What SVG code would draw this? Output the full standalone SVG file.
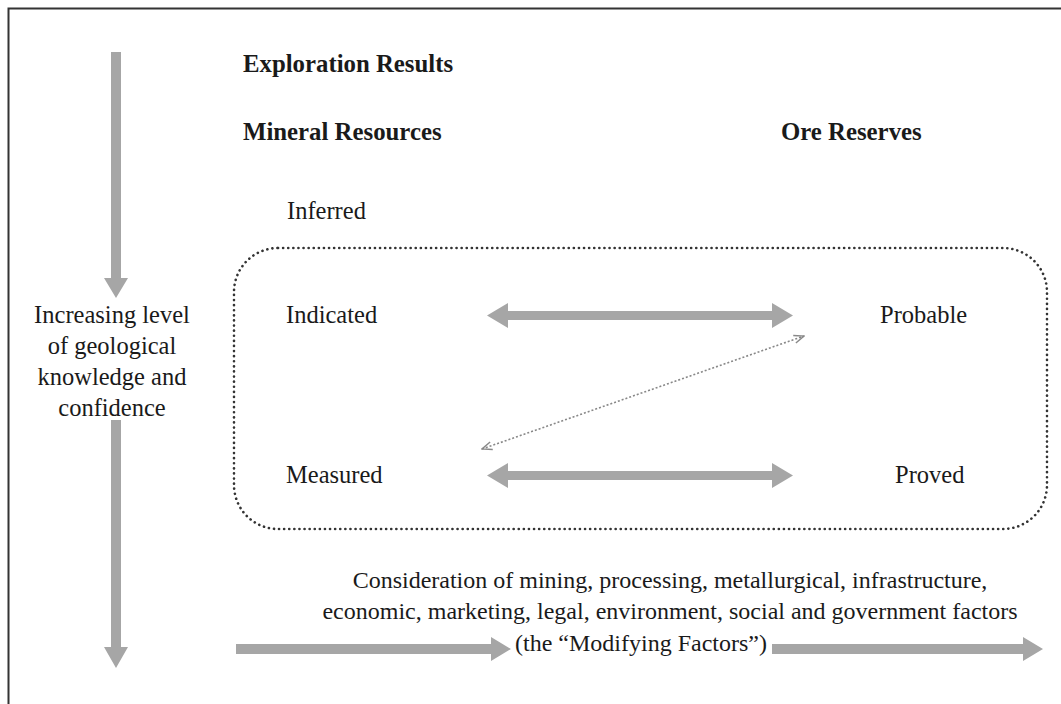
<svg xmlns="http://www.w3.org/2000/svg" width="1061" height="704" viewBox="0 0 1061 704">
<defs>
<style>
text{font-family:"Liberation Serif","Times New Roman",serif;font-size:24.5px;fill:#1a1a1a}
.b{font-weight:bold;font-size:24.8px}
.c{text-anchor:middle}
.s{font-size:24px}
.arr{fill:#a6a6a6}
</style>
<marker id="open" viewBox="0 0 12 10" refX="11" refY="5" markerWidth="12" markerHeight="10" markerUnits="userSpaceOnUse" orient="auto-start-reverse">
<path d="M1,1 L11,5 L1,9" fill="none" stroke="#888" stroke-width="1.4"/>
</marker>
</defs>
<rect width="1061" height="704" fill="#fff"/>
<path d="M8.5,704 V8.5 H1061" fill="none" stroke="#333" stroke-width="2"/>
<g id="labels">
<text class="b" x="243" y="72">Exploration Results</text>
<text class="b" x="243" y="140">Mineral Resources</text>
<text class="b" x="781" y="140">Ore Reserves</text>
<text x="287" y="219">Inferred</text>
</g>
<g id="confidence">
<text class="c" x="112" y="323">Increasing level</text>
<text class="c" x="112" y="354">of geological</text>
<text class="c" x="112" y="385">knowledge and</text>
<text class="c" x="112" y="416">confidence</text>
</g>
<g id="group-box">
<rect x="234" y="248" width="813" height="281" rx="44" ry="44" fill="none" stroke="#333" stroke-width="2.6" stroke-linecap="round" stroke-dasharray="0.1 5"/>
</g>
<g id="indicated"><text x="286" y="323">Indicated</text></g>
<g id="probable"><text x="880" y="323">Probable</text></g>
<g id="measured"><text x="286" y="483">Measured</text></g>
<g id="proved"><text x="895" y="483">Proved</text></g>
<g id="modifying">
<text class="c s" x="670" y="588">Consideration of mining, processing, metallurgical, infrastructure,</text>
<text class="c s" x="670" y="619">economic, marketing, legal, environment, social and government factors</text>
<text class="c s" x="641" y="651">(the “Modifying Factors”)</text>
</g>
<g id="connectors">
<polygon class="arr" points="111,52 121,52 121,278 128,278 116,298 104,278 111,278"/>
<polygon class="arr" points="111,420 121,420 121,647 128,647 116,668 104,647 111,647"/>
<polygon class="arr" points="487,315.5 508,303 508,311 772,311 772,303 793,315.5 772,328 772,320 508,320 508,328"/>
<polygon class="arr" points="487,475.5 508,463 508,471 772,471 772,463 793,475.5 772,488 772,480 508,480 508,488"/>
<polygon class="arr" points="236,644 491,644 491,637 511,649 491,661 491,654 236,654"/>
<polygon class="arr" points="772,644 1023,644 1023,637 1043,649 1023,661 1023,654 772,654"/>
<line x1="482" y1="449" x2="804" y2="336" stroke="#888" stroke-width="1.6" stroke-dasharray="2 2" marker-start="url(#open)" marker-end="url(#open)"/>
</g>
</svg>
